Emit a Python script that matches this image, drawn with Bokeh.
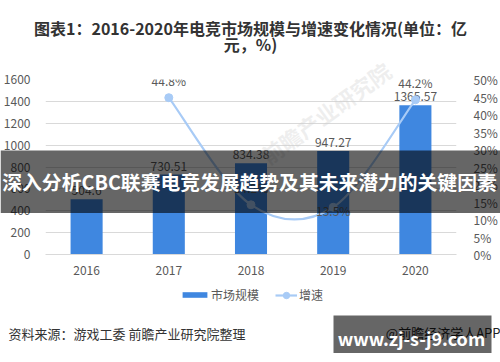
import numpy as np
from bokeh.plotting import figure
from bokeh.models import (Range1d, LinearAxis, FixedTicker, Label, BoxAnnotation,
                          Legend, LegendItem, ColumnDataSource, PrintfTickFormatter)
from bokeh.core.properties import value
from bokeh.embed import file_html
from bokeh.resources import INLINE

# ---------------- data ----------------
years = ["2016", "2017", "2018", "2019", "2020"]
market = [504.6, 730.51, 834.38, 947.27, 1365.57]
market_labels = ["504.6", "730.51", "834.38", "947.27", "1365.57"]
growth_years = ["2017", "2018", "2019", "2020"]
growth = [44.8, 14.2, 13.5, 44.2]
growth_labels = ["44.8%", "14.2%", "13.5%", "44.2%"]
growth_label_pos = ["above", "above", "below", "above"]
left_ticks = [0, 200, 400, 600, 800, 1000, 1200, 1400, 1600]
right_ticks = [0, 5, 10, 15, 20, 25, 30, 35, 40, 45, 50]

title_line1 = "图表1：2016-2020年电竞市场规模与增速变化情况(单位：亿"
title_line2 = "元，%)"
banner_text = "深入分析CBC联赛电竞发展趋势及其未来潜力的关键因素"
source_text = "资料来源：游戏工委 前瞻产业研究院整理"
app_text = "@前瞻经济学人APP"
site_text = "www.zj-s-j9.com"
watermark_text = "前瞻产业研究院"

FONT = "Noto Sans CJK SC"
W, H = 500, 362
FL, FR, FT, FB = 43, 460, 79, 254  # frame edges in page pixels
ABS = {"position": "absolute", "top": "0px", "left": "0px"}
BAR_COLOR = "#3f87e0"
LINE_COLOR = "#a8cbf6"

# ---------------- chart figure ----------------
p = figure(width=W, height=H, output_backend="svg", toolbar_location=None,
           x_range=Range1d(0, len(years)), y_range=Range1d(0, 1600),
           min_border_left=FL, min_border_right=W - FR,
           min_border_top=FT, min_border_bottom=H - FB,
           background_fill_color="white", border_fill_color="white",
           outline_line_color=None, styles=ABS)
p.extra_y_ranges = {"pct": Range1d(0, 50)}

xpos = {y: i + 0.5 for i, y in enumerate(years)}

p.xaxis.ticker = FixedTicker(ticks=[xpos[y] for y in years])
p.xaxis.major_label_overrides = {xpos[y]: y for y in years}
p.xaxis.axis_line_color = "#d9d9d9"
p.xaxis.major_tick_line_color = None
p.xaxis.minor_tick_line_color = None
p.xaxis.major_label_standoff = 5
p.xaxis.major_label_text_font = FONT
p.xaxis.major_label_text_font_size = "12px"
p.xaxis.major_label_text_color = "#595959"

p.yaxis.ticker = FixedTicker(ticks=left_ticks)
p.yaxis.axis_line_color = None
p.yaxis.major_tick_line_color = None
p.yaxis.minor_tick_line_color = None
p.yaxis.major_label_standoff = 9
p.yaxis.major_label_text_font = FONT
p.yaxis.major_label_text_font_size = "12px"
p.yaxis.major_label_text_color = "#595959"

ry = LinearAxis(y_range_name="pct", ticker=FixedTicker(ticks=right_ticks),
                formatter=PrintfTickFormatter(format="%d%%"))
ry.axis_line_color = None
ry.major_tick_line_color = None
ry.minor_tick_line_color = None
ry.major_label_standoff = 11
ry.major_label_text_font = FONT
ry.major_label_text_font_size = "12px"
ry.major_label_text_color = "#595959"
p.add_layout(ry, "right")

p.xgrid.grid_line_color = None
p.ygrid.grid_line_color = "#d9d9d9"
p.ygrid.ticker = FixedTicker(ticks=left_ticks)

bsrc = ColumnDataSource(dict(x=[xpos[y] for y in years], top=market, lab=market_labels))
bars = p.vbar(x="x", top="top", width=0.39, source=bsrc, fill_color=BAR_COLOR, line_color=None)
p.text(x="x", y="top", text="lab", source=bsrc, y_offset=-4, text_align="center",
       text_baseline="bottom", text_font=value(FONT), text_font_size="12px", text_color="#595959")

# smoothed growth line (Catmull-Rom -> Bezier through the data points)
gx = np.array([xpos[y] for y in growth_years])
gy = np.array(growth)
n = len(gx)
x0s, y0s, x1s, y1s, cx0, cy0, cx1, cy1 = [], [], [], [], [], [], [], []
for i in range(n - 1):
    ip, inn = max(i - 1, 0), min(i + 2, n - 1)
    x0s.append(gx[i]); y0s.append(gy[i]); x1s.append(gx[i + 1]); y1s.append(gy[i + 1])
    cx0.append(gx[i] + (gx[i + 1] - gx[ip]) / 6); cy0.append(gy[i] + (gy[i + 1] - gy[ip]) / 6)
    cx1.append(gx[i + 1] - (gx[inn] - gx[i]) / 6); cy1.append(gy[i + 1] - (gy[inn] - gy[i]) / 6)
curve = p.bezier(x0=x0s, y0=y0s, x1=x1s, y1=y1s, cx0=cx0, cy0=cy0, cx1=cx1, cy1=cy1,
                 y_range_name="pct", line_color=LINE_COLOR, line_width=2.2)
gsrc = ColumnDataSource(dict(x=gx, y=gy, lab=growth_labels,
                             off=[-9 if s == "above" else 12 for s in growth_label_pos]))
dots = p.scatter(x="x", y="y", source=gsrc, y_range_name="pct", size=8, marker="circle",
                 fill_color=LINE_COLOR, line_color=LINE_COLOR)
p.text(x="x", y="y", text="lab", source=gsrc, y_offset="off", y_range_name="pct",
       text_align="center", text_baseline="bottom", text_font=value(FONT),
       text_font_size="12px", text_color="#595959")

# ---------------- overlay figure (page-pixel coordinates) ----------------
ov = figure(width=W, height=H, output_backend="svg", toolbar_location=None,
            x_range=Range1d(0, W), y_range=Range1d(H, 0),
            x_axis_type=None, y_axis_type=None, min_border=0,
            background_fill_color=None, border_fill_color=None,
            outline_line_color=None, styles=ABS)
ov.xgrid.visible = False
ov.ygrid.visible = False

# hidden proxies of the series, used only for the legend keys
bar_key = ov.vbar(x="x", top="top", width=0.39, source=bsrc, fill_color=BAR_COLOR,
                  line_color=None, visible=False)
line_key = ov.line(x="x", y="y", source=gsrc, line_color=LINE_COLOR, line_width=2.2, visible=False)
dot_key = ov.scatter(x="x", y="y", source=gsrc, size=6, marker="circle",
                     fill_color=LINE_COLOR, line_color=LINE_COLOR, visible=False)

ov.add_layout(Label(x=325, y=112, text=watermark_text, angle=36, angle_units="deg",
                    text_align="center", text_baseline="middle", text_font=FONT,
                    text_font_size="22px", text_font_style="bold",
                    text_color="#cfcfcf", text_alpha=0.35))

leg_common = dict(orientation="horizontal", padding=0, margin=0, spacing=0,
                  label_height=16, label_text_font=FONT, label_text_font_size="12px",
                  label_text_color="#595959", background_fill_alpha=0,
                  border_line_color=None, label_text_baseline="middle")
ov.add_layout(Legend(items=[LegendItem(label="市场规模", renderers=[bar_key])],
                     location=(179, H - 303), glyph_width=31, glyph_height=7,
                     label_standoff=1, **leg_common))
ov.add_layout(Legend(items=[LegendItem(label="增速", renderers=[line_key, dot_key])],
                     location=(275, H - 303), glyph_width=22, glyph_height=16,
                     label_standoff=2, **leg_common))

for txt, py in [(title_line1, 27), (title_line2, 43)]:
    ov.add_layout(Label(x=250, y=py, text=txt, text_align="center", text_baseline="middle",
                        text_font=FONT, text_font_size="16px", text_font_style="bold",
                        text_color="#333333"))

ov.add_layout(BoxAnnotation(left=0, right=500, top=150, bottom=212.5,
                            fill_color="black", fill_alpha=0.6, line_color=None))
ov.add_layout(Label(x=249, y=181, text=banner_text, text_align="center",
                    text_baseline="middle", text_font=FONT, text_font_size="19.8px",
                    text_font_style="bold", text_color="white"))

ov.add_layout(Label(x=8, y=333, text=source_text, text_align="left", text_baseline="middle",
                    text_font=FONT, text_font_size="13px", text_color="#333333"))
ov.add_layout(Label(x=500, y=332, text=app_text, text_align="right", text_baseline="middle",
                    text_font=FONT, text_font_size="13px", text_color="#222222"))
ov.add_layout(BoxAnnotation(left=333, right=491, top=315, bottom=352.5,
                            fill_color="black", fill_alpha=0.6, line_color=None))
ov.add_layout(Label(x=411, y=337, text=site_text, text_align="center", text_baseline="middle",
                    text_font=FONT, text_font_size="18px", text_font_style="bold",
                    text_color="white"))

open("out.html", "w").write(file_html([p, ov], INLINE))
